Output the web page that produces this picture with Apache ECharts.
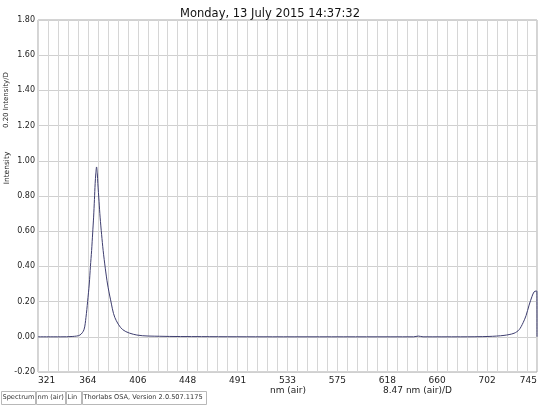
<!DOCTYPE html>
<html>
<head>
<meta charset="utf-8">
<script src="https://cdn.jsdelivr.net/npm/echarts@6/dist/echarts.min.js"></script>
<style>html,body{margin:0;padding:0;background:#fff}#c{width:540px;height:405px}</style>
</head>
<body>
<div id="c"></div>
<script>
const titleText = "Monday, 13 July 2015 14:37:32";
const xMin = 321.2;
const xStep = 8.47;
const xDivisions = 50;
const yMin = -0.2, yMax = 1.8, yStep = 0.2;
const xName = "nm (air)";
const xScaleName = "8.47 nm (air)/D";
const yName = "Intensity";
const yScaleName = "0.20 Intensity/D";
const statusItems = ["Spectrum", "nm (air)", "Lin", "Thorlabs OSA, Version 2.0.507.1175"];

// wavelength (nm) and intensity
const wavelengths = [321.2, 340, 350.8, 356.8, 360.2, 361.9, 363.3, 364.7, 365.7, 366.7, 367.6, 368.4, 369.1, 369.7, 370.3, 370.9, 371.5, 372.0, 373.0, 373.9, 375.2, 376.5, 378.3, 380.2, 382.8, 386.4, 393.2, 405.1, 424.5, 460, 520, 600, 640, 644, 648, 680, 704, 716.7, 725.2, 729.5, 732.9, 735.4, 738.0, 740.5, 742.2, 743.9, 744.6, 744.7];
const intensity = [0.0, 0.0, 0.002, 0.01, 0.04, 0.11, 0.2, 0.30, 0.40, 0.49, 0.59, 0.68, 0.78, 0.87, 0.93, 0.965, 0.93, 0.87, 0.77, 0.68, 0.58, 0.49, 0.39, 0.30, 0.21, 0.11, 0.04, 0.01, 0.003, 0.001, 0.0, 0.0, 0.0, 0.004, 0.0, 0.0, 0.002, 0.008, 0.02, 0.04, 0.08, 0.12, 0.18, 0.23, 0.255, 0.26, 0.26, 0.0];

const xMax = xMin + xStep * xDivisions;
const seriesData = wavelengths.map((w, i) => [w, intensity[i]]);

const chart = echarts.init(document.getElementById('c'), null, {renderer: 'canvas'});
const font = "DejaVu Sans";

// status bar boxes
const statusGraphics = [];
let sx = 1;
const statusWidths = [34, 29, 15, 124];
statusItems.forEach((t, i) => {
  statusGraphics.push({
    type: 'rect', left: sx, top: 391,
    shape: {width: statusWidths[i], height: 13},
    style: {fill: '#fff', stroke: '#b8b8b8', lineWidth: 1}
  });
  statusGraphics.push({
    type: 'text', left: sx + 1.5, top: 394,
    style: {text: t, fontSize: 6.6, fontFamily: font, fill: '#333'}
  });
  sx += statusWidths[i] + 1;
});

chart.setOption({
  animation: false,
  backgroundColor: '#fff',
  title: {
    text: titleText, left: 'center', top: 3,
    textStyle: {fontSize: 11.5, fontWeight: 'normal', fontFamily: font, color: '#111'}
  },
  grid: {left: 38, right: 2, top: 20, bottom: 33, show: true, borderColor: '#a8a8a8', borderWidth: 1, containLabel: false},
  xAxis: {
    type: 'value', min: xMin, max: xMax, interval: xStep,
    axisLine: {show: false}, axisTick: {show: false},
    splitLine: {show: true, lineStyle: {color: '#d6d6d6', width: 1}},
    axisLabel: {
      fontSize: 9, fontFamily: font, color: '#222', margin: 4,
      showMinLabel: true, showMaxLabel: true,
      alignMinLabel: 'left', alignMaxLabel: 'right',
      formatter: function (v) {
        const idx = Math.round((v - xMin) / xStep);
        return idx % 5 === 0 ? String(Math.round(v)) : '';
      }
    }
  },
  yAxis: {
    type: 'value', min: yMin, max: yMax, interval: yStep,
    axisLine: {show: false}, axisTick: {show: false},
    splitLine: {show: true, lineStyle: {color: '#d0d0d0', width: 1}},
    axisLabel: {
      fontSize: 8, fontFamily: font, color: '#222', margin: 3,
      formatter: v => v.toFixed(2)
    }
  },
  graphic: [
    {type: 'text', left: 270, top: 386, style: {text: xName, fontSize: 9, fontFamily: font, fill: '#222'}},
    {type: 'text', left: 383, top: 386, style: {text: xScaleName, fontSize: 9, fontFamily: font, fill: '#222'}},
    {type: 'text', x: 3, y: 168, rotation: Math.PI / 2, style: {text: yName, fontSize: 7.5, fontFamily: font, fill: '#222', align: 'center', verticalAlign: 'top'}},
    {type: 'text', x: 3, y: 100, rotation: Math.PI / 2, style: {text: yScaleName, fontSize: 7, fontFamily: font, fill: '#222', align: 'center', verticalAlign: 'top'}}
  ].concat(statusGraphics),
  series: [{
    type: 'line', data: seriesData, showSymbol: false, smooth: 0.3,
    lineStyle: {color: '#3e3e70', width: 1}, itemStyle: {color: '#3e3e70'}
  }]
});
</script>
</body>
</html>
